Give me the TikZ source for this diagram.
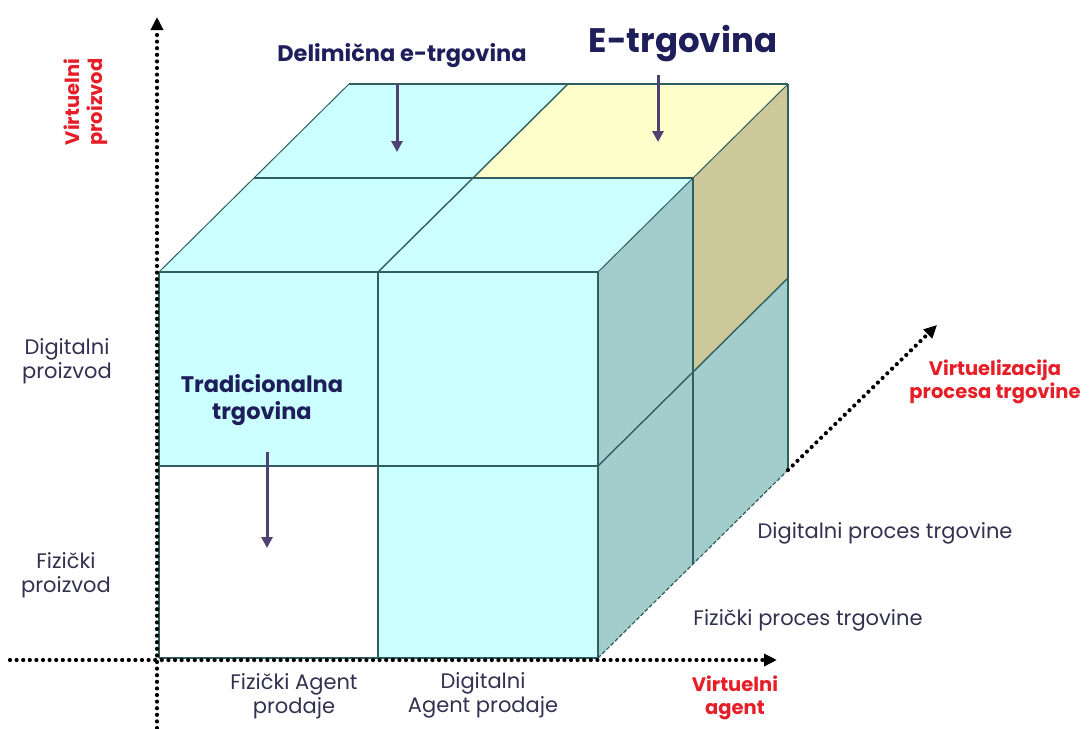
\documentclass[tikz,border=0pt]{standalone}
\usepackage{fontspec}
\setmainfont{Poppins}
\usetikzlibrary{arrows.meta}
\definecolor{cyanface}{RGB}{204,255,255}
\definecolor{tealside}{RGB}{163,204,204}
\definecolor{khakiside}{RGB}{204,200,153}
\definecolor{creamtop}{RGB}{255,255,204}
\definecolor{edgecol}{RGB}{47,95,95}
\definecolor{titlecol}{RGB}{30,30,90}
\definecolor{labelcol}{RGB}{50,50,80}
\definecolor{axisred}{RGB}{230,30,40}
\definecolor{pointercol}{RGB}{80,65,115}
\tikzset{
  cell/.style={draw=edgecol, line width=1.4pt, line join=round},
  axisline/.style={line width=4.2pt, dash pattern=on 0pt off 6.6pt, line cap=round,
    -{Triangle[length=13pt,width=12pt]}},
  pointer/.style={draw=pointercol, line width=3pt,
    -{Triangle[length=11pt,width=11pt]}},
  label/.style={text=labelcol, align=center, font=\fontsize{21}{24}\selectfont},
  redlabel/.style={text=axisred, align=center, font=\bfseries\fontsize{19.5}{23}\selectfont},
  title/.style={text=titlecol, align=center, font=\bfseries\fontsize{22.5}{27}\selectfont}
}
\begin{document}
\begin{tikzpicture}[x=1pt,y=-1pt]
\useasboundingbox (0,0) rectangle (1091,728);
\fill[white] (0,0) rectangle (1091,728);

% front grid corners
\coordinate (A) at (159,272); \coordinate (B) at (378,272); \coordinate (C) at (598,272);
\coordinate (D) at (159,466); \coordinate (E) at (378,466); \coordinate (F) at (598,466);
\coordinate (G) at (159,658); \coordinate (H) at (378,658); \coordinate (I) at (598,658);
% one half of the depth
\def\dx{95}\def\dy{-94}

% top face
\fill[cyanface] (A) -- (C) -- ++(\dx,\dy) -- ([shift={(\dx,\dy)}]A) -- cycle;
\fill[cyanface] ([shift={(\dx,\dy)}]A) -- ([shift={(\dx,\dy)}]B) -- ([shift={(2*\dx,2*\dy)}]B) -- ([shift={(2*\dx,2*\dy)}]A) -- cycle;
\fill[creamtop] ([shift={(\dx,\dy)}]B) -- ([shift={(\dx,\dy)}]C) -- ([shift={(2*\dx,2*\dy)}]C) -- ([shift={(2*\dx,2*\dy)}]B) -- cycle;
% right side face
\fill[tealside] (C) -- (I) -- ([shift={(\dx,\dy)}]I) -- ([shift={(\dx,\dy)}]C) -- cycle;
\fill[khakiside] ([shift={(\dx,\dy)}]C) -- ([shift={(\dx,\dy)}]F) -- ([shift={(2*\dx,2*\dy)}]F) -- ([shift={(2*\dx,2*\dy)}]C) -- cycle;
\fill[tealside] ([shift={(\dx,\dy)}]F) -- ([shift={(\dx,\dy)}]I) -- ([shift={(2*\dx,2*\dy)}]I) -- ([shift={(2*\dx,2*\dy)}]F) -- cycle;
% front face
\fill[cyanface] (A) -- (C) -- (F) -- (D) -- cycle;
\fill[cyanface] (E) -- (F) -- (I) -- (H) -- cycle;

% edges of the top face
\draw[cell] (A) -- (C);
\draw[cell] ([shift={(\dx,\dy)}]A) -- ([shift={(\dx,\dy)}]C);
\draw[cell] ([shift={(2*\dx,2*\dy)}]A) -- ([shift={(2*\dx,2*\dy)}]C);
\draw[cell, line width=1pt] (A) -- ([shift={(2*\dx,2*\dy)}]A);
\draw[cell] (B) -- ([shift={(2*\dx,2*\dy)}]B);
\draw[cell, line width=1pt] (C) -- ([shift={(2*\dx,2*\dy)}]C);
% edges of the right side
\draw[cell] ([shift={(\dx,\dy)}]C) -- ([shift={(\dx,\dy)}]I);
\draw[cell] ([shift={(2*\dx,2*\dy)}]C) -- ([shift={(2*\dx,2*\dy)}]I);
\draw[cell] (F) -- ([shift={(2*\dx,2*\dy)}]F);
\draw[edgecol, line width=1.2pt, dash pattern=on 4pt off 2pt] (I) -- ([shift={(2*\dx,2*\dy)}]I);
% edges of the front face
\draw[cell] (A) -- (G); \draw[cell] (B) -- (H); \draw[cell] (C) -- (I);
\draw[cell] (D) -- (F); \draw[cell] (G) -- (I);

% axes
\coordinate (yaxis0) at (157,728); \coordinate (yaxis1) at (157,17);
\coordinate (xaxis0) at (10,660); \coordinate (xaxis1) at (777,660);
\coordinate (zaxis0) at ([shift={(2*\dx,2*\dy)}]I); \coordinate (zaxis1) at (937,325);
\draw[axisline] (yaxis0) -- (yaxis1);
\draw[axisline] (xaxis0) -- (xaxis1);
\draw[axisline] (zaxis0) -- (zaxis1);

% titles and their pointers
\node[title] (partial) at (402,56) {Delimična e-trgovina};
\node[title, font=\bfseries\fontsize{34}{40}\selectfont] (ecom) at (683,44) {E-trgovina};
\node[title] (trad) at (262,400) {Tradicionalna\\trgovina};
\coordinate (partialtip) at (397,152);
\coordinate (ecomtip) at (658,142);
\coordinate (tradtip) at (267,548);
\draw[pointer] (397,84) -- (partialtip);
\draw[pointer] (658,75) -- (ecomtip);
\draw[pointer] (267,452) -- (tradtip);

% axis captions
\node[redlabel, rotate=90] (vprod) at (86,102) {Virtuelni\\proizvod};
\node[redlabel] (vagent) at (735,698) {Virtuelni\\agent};
\node[redlabel] (vproc) at (995,382) {Virtuelizacija\\procesa trgovine};

% category labels
\node[label] (dprod) at (67,361) {Digitalni\\proizvod};
\node[label] (fprod) at (66,575) {Fizički\\proizvod};
\node[label] (fagent) at (294,696) {Fizički Agent\\prodaje};
\node[label] (dagent) at (483,695) {Digitalni\\Agent prodaje};
\node[label] (dproc) at (885,533) {Digitalni proces trgovine};
\node[label] (fproc) at (808,620) {Fizički proces trgovine};
\end{tikzpicture}
\end{document}
